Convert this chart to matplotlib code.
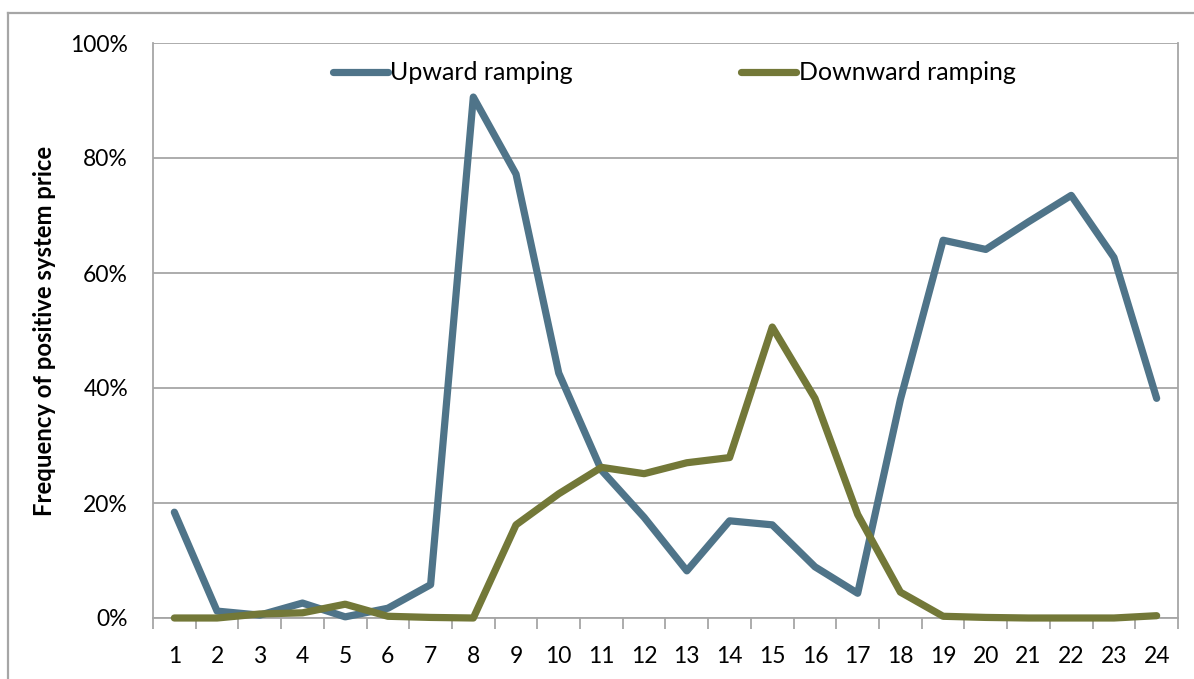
import matplotlib
matplotlib.use("Agg")
import matplotlib.pyplot as plt
from matplotlib.lines import Line2D
from matplotlib.ticker import PercentFormatter, MultipleLocator

# Hour of day
hours = list(range(1, 25))
hour_labels = [str(h) for h in hours]

# Share of hours with a positive system price (%)
upward = [18.4, 1.2, 0.5, 2.6, 0.2, 1.7, 5.8, 90.6, 77.2, 42.6,
          25.7, 17.5, 8.2, 16.9, 16.2, 8.9, 4.3, 38.0,
          65.7, 64.1, 68.9, 73.5, 62.7, 38.2]
downward = [0.0, 0.0, 0.7, 0.9, 2.4, 0.3, 0.1, 0.0, 16.2, 21.6,
            26.2, 25.1, 27.0, 27.9, 50.6, 38.2, 18.0, 4.5,
            0.3, 0.1, 0.0, 0.0, 0.0, 0.4]

series_names = ["Upward ramping", "Downward ramping"]
colors = ["#4F7489", "#737838"]
grid_color = "#A6A6A6"

plt.rcParams["font.family"] = ["Lato", "DejaVu Sans"]

W, H = 1194, 679
fig = plt.figure(figsize=(W / 100, H / 100), dpi=100)

# plot area in pixel coordinates
left, right, top, bottom = 153, 1178, 43, 618
ax = fig.add_axes([left / W, 1 - bottom / H, (right - left) / W, (bottom - top) / H])

x = list(range(len(hours)))
for vals, name, c in zip([upward, downward], series_names, colors):
    ax.plot(x, vals, color=c, lw=5.2, solid_joinstyle="round",
            solid_capstyle="round", label=name, zorder=3, clip_on=False)

ax.set_xlim(-0.5, len(hours) - 0.5)
ax.set_ylim(0, 100)
ax.yaxis.set_major_locator(MultipleLocator(20))
ax.yaxis.set_major_formatter(PercentFormatter(decimals=0))
ax.set_xticks(x)
ax.set_xticklabels(hour_labels)
ax.set_xticks([i - 0.5 for i in range(len(hours) + 1)], minor=True)

ax.grid(axis="y", color=grid_color, lw=1.3, zorder=1)
ax.set_axisbelow(True)
ax.spines["top"].set_visible(False)
for side in ["left", "bottom", "right"]:
    ax.spines[side].set_color(grid_color)
    ax.spines[side].set_linewidth(1.3)

ax.tick_params(axis="x", which="major", length=0, pad=20, labelsize=16.5)
ax.tick_params(axis="x", which="minor", length=8, width=1.3, color=grid_color)
ax.tick_params(axis="y", length=0, pad=18, labelsize=16.5)

ax.set_ylabel("Frequency of positive system price", fontsize=17.2,
              fontweight="bold")
ax.yaxis.set_label_coords((56 - left) / (right - left), 0.5)

handles = [Line2D([], [], color=c, lw=5.2, solid_capstyle="round") for c in colors]
leg = ax.legend(handles, series_names, loc="center", ncol=2,
                bbox_to_anchor=((674 - left) / (right - left), (bottom - 73) / (bottom - top)),
                frameon=False, fontsize=18, handlelength=2.2, handletextpad=0.12,
                columnspacing=6.7)

# outer chart frame
fig.add_artist(Line2D([8 / W, 8 / W], [0, 1 - 13 / H], transform=fig.transFigure,
                      color=grid_color, lw=1.6))
fig.add_artist(Line2D([8 / W, 1], [1 - 13 / H, 1 - 13 / H], transform=fig.transFigure,
                      color=grid_color, lw=1.6))

fig.savefig("out.png", dpi=100)
